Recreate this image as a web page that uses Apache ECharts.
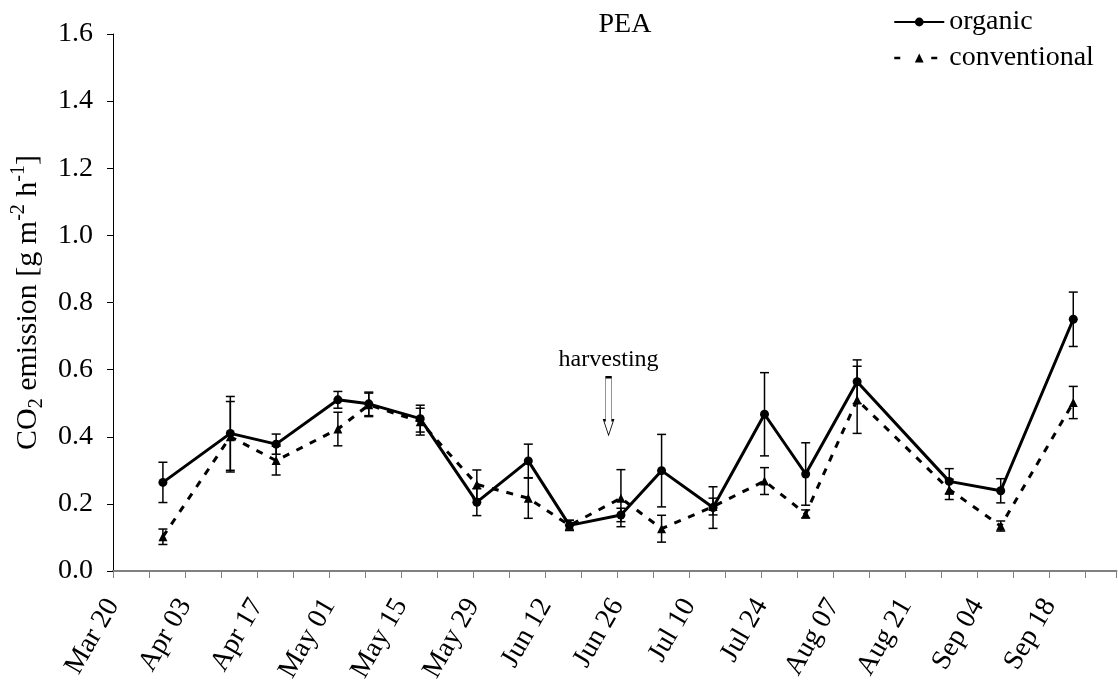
<!DOCTYPE html>
<html>
<head>
<meta charset="utf-8">
<title>PEA</title>
<script src="https://cdn.jsdelivr.net/npm/echarts@6/dist/echarts.min.js"></script>
<style>
  html, body { margin: 0; padding: 0; background: #fff; }
  #chart { width: 1118px; height: 688px; }
</style>
</head>
<body>
<div id="chart"></div>
<script>
// sampling days, counted from Mar 20
const sampleDays = [9.7, 22.8, 31.7, 43.7, 49.7, 59.7, 70.7, 80.7, 88.7, 98.7, 106.6, 116.6, 126.6, 134.6, 144.6, 162.5, 172.5, 186.6];

const organic = [0.264, 0.410, 0.378, 0.510, 0.498, 0.454, 0.205, 0.328, 0.136, 0.167, 0.299, 0.189, 0.467, 0.289, 0.564, 0.267, 0.239, 0.750];
const organicErr = [0.060, 0.110, 0.030, 0.025, 0.035, 0.040, 0.040, 0.050, 0.015, 0.020, 0.108, 0.062, 0.124, 0.093, 0.065, 0.038, 0.036, 0.081];

const conventional = [0.102, 0.400, 0.329, 0.423, 0.495, 0.445, 0.258, 0.217, 0.136, 0.217, 0.126, 0.192, 0.268, 0.170, 0.510, 0.243, 0.134, 0.502];
const conventionalErr = [0.023, 0.105, 0.043, 0.050, 0.035, 0.040, 0.043, 0.060, 0.015, 0.085, 0.040, 0.025, 0.040, 0.012, 0.100, 0.030, 0.015, 0.048];

const monthNames = ['Jan', 'Feb', 'Mar', 'Apr', 'May', 'Jun', 'Jul', 'Aug', 'Sep', 'Oct', 'Nov', 'Dec'];
const harvestDay = 96.3;
const harvestLevel = 0.491;

const serif = 'Liberation Serif';

function dayLabel(d) {
  if (d % 14 !== 0 || d > 182) return '';
  const dt = new Date(2009, 2, 20 + d);
  const dd = dt.getDate();
  return monthNames[dt.getMonth()] + ' ' + (dd < 10 ? '0' + dd : dd);
}

function pairs(vals) {
  return sampleDays.map((d, i) => [d, vals[i]]);
}

function errRows(vals, errs) {
  return sampleDays.map((d, i) => [d, vals[i] - errs[i], vals[i] + errs[i]]);
}

function errorBarItem(params, api) {
  const x = api.value(0);
  const top = api.coord([x, api.value(2)]);
  const bot = api.coord([x, api.value(1)]);
  const half = 4.5;
  const style = { stroke: '#000', lineWidth: 1.5 };
  return {
    type: 'group',
    children: [
      { type: 'line', shape: { x1: top[0], y1: top[1], x2: bot[0], y2: bot[1] }, style },
      { type: 'line', shape: { x1: top[0] - half, y1: top[1], x2: top[0] + half, y2: top[1] }, style },
      { type: 'line', shape: { x1: bot[0] - half, y1: bot[1], x2: bot[0] + half, y2: bot[1] }, style }
    ]
  };
}

const chart = echarts.init(document.getElementById('chart'), null, { renderer: 'canvas' });

chart.setOption({
  animation: false,
  backgroundColor: '#fff',
  title: {
    text: 'PEA',
    left: 620,
    top: 6,
    textAlign: 'center',
    textStyle: { fontFamily: serif, fontSize: 28, fontWeight: 'normal', color: '#000' }
  },
  legend: {
    data: [
      { name: 'organic', lineStyle: { width: 2 } },
      { name: 'conventional', lineStyle: { width: 2.5, type: [6, 31] } }
    ],
    orient: 'vertical',
    left: 888,
    top: 3,
    itemWidth: 50,
    itemHeight: 11,
    itemGap: 8,
    textStyle: { fontFamily: serif, fontSize: 28, color: '#000' }
  },
  grid: { left: 113, right: 0, top: 34, bottom: 117 },
  xAxis: {
    type: 'value',
    min: 0,
    max: 195,
    interval: 7,
    axisLine: { show: true, lineStyle: { color: '#808080', width: 2 } },
    axisTick: { show: true, length: 7, lineStyle: { color: '#808080', width: 1 } },
    axisLabel: {
      rotate: 60,
      margin: 30,
      fontFamily: serif,
      fontSize: 28,
      color: '#000',
      formatter: dayLabel
    },
    splitLine: { show: false }
  },
  yAxis: {
    type: 'value',
    min: 0,
    max: 1.6,
    interval: 0.2,
    name: '{t|CO}{sub|2}{t| emission [g m}{sup|-2}{t| h}{sup|-1}{t|]}',
    nameLocation: 'middle',
    nameRotate: 90,
    nameGap: 64,
    nameTextStyle: {
      color: '#000',
      rich: {
        t: { fontFamily: serif, fontSize: 30, color: '#000', lineHeight: 38, verticalAlign: 'middle' },
        sub: { fontFamily: serif, fontSize: 20, color: '#000', lineHeight: 38, verticalAlign: 'bottom' },
        sup: { fontFamily: serif, fontSize: 20, color: '#000', lineHeight: 38, verticalAlign: 'top' }
      }
    },
    axisLine: { show: true, lineStyle: { color: '#000', width: 1 } },
    axisTick: { show: true, length: 6, lineStyle: { color: '#000' } },
    axisLabel: {
      margin: 20,
      fontFamily: serif,
      fontSize: 28,
      color: '#000',
      formatter: v => v.toFixed(1)
    },
    splitLine: { show: false }
  },
  series: [
    {
      name: 'organic-err',
      type: 'custom',
      renderItem: errorBarItem,
      encode: { x: 0, y: [1, 2] },
      data: errRows(organic, organicErr),
      z: 2
    },
    {
      name: 'conventional-err',
      type: 'custom',
      renderItem: errorBarItem,
      encode: { x: 0, y: [1, 2] },
      data: errRows(conventional, conventionalErr),
      z: 2
    },
    {
      name: 'conventional',
      type: 'line',
      data: pairs(conventional),
      symbol: 'triangle',
      symbolSize: 9,
      itemStyle: { color: '#000' },
      lineStyle: { color: '#000', width: 3, type: [7, 8] },
      z: 3
    },
    {
      name: 'organic',
      type: 'line',
      data: pairs(organic),
      symbol: 'circle',
      symbolSize: 9,
      itemStyle: { color: '#000' },
      lineStyle: { color: '#000', width: 3 },
      z: 4,
      markPoint: {
        silent: true,
        symbol: 'path://M2,0 L8,0 L8,43 L10,43 L5,58 L0,43 L2,43 Z',
        symbolSize: [10, 58],
        itemStyle: { color: '#fff', borderColor: '#000', borderWidth: 1 },
        label: {
          show: true,
          position: 'top',
          distance: 4,
          formatter: 'harvesting',
          fontFamily: serif,
          fontSize: 24,
          color: '#000'
        },
        data: [{ coord: [harvestDay, harvestLevel] }]
      }
    }
  ]
});
</script>
</body>
</html>
